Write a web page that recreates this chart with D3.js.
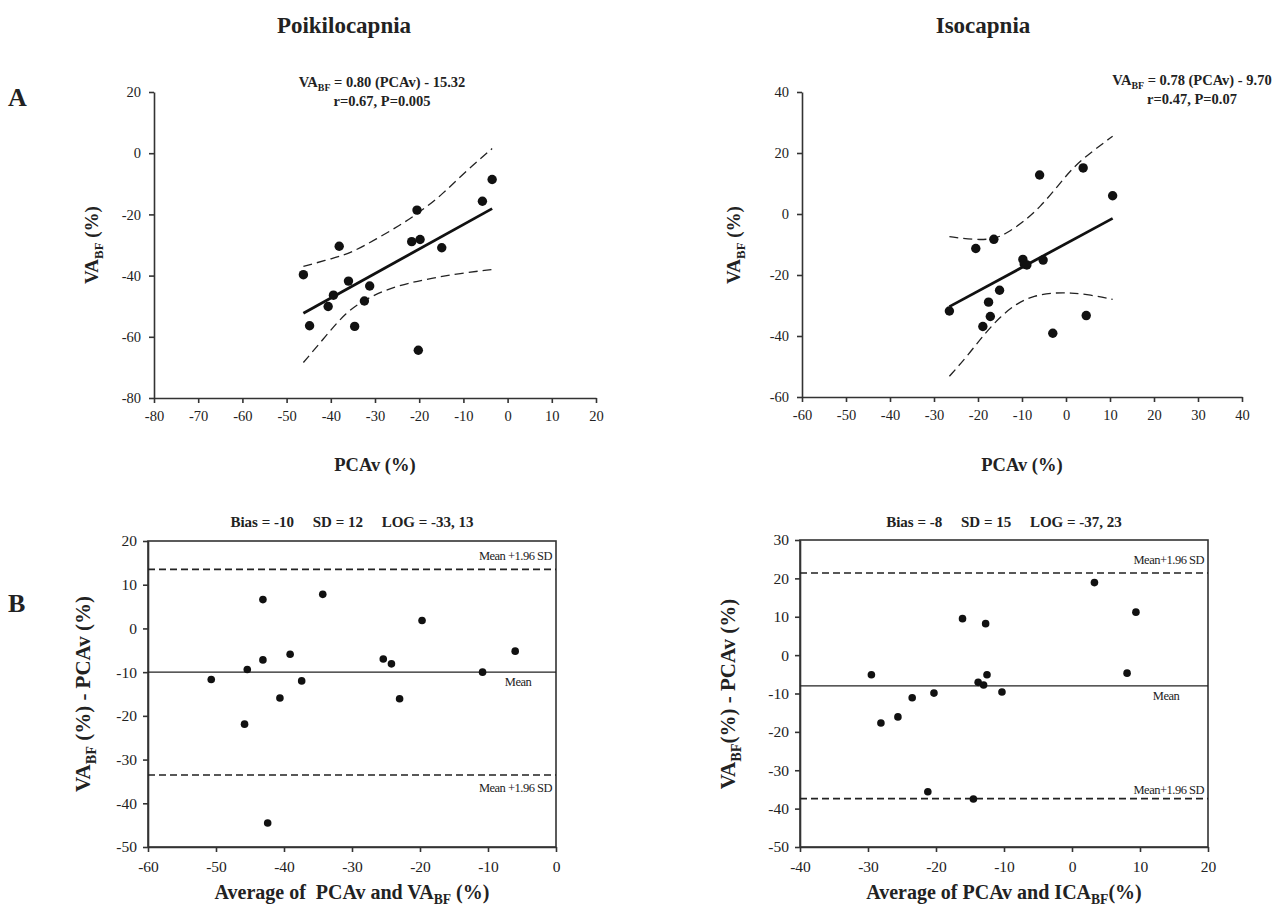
<!DOCTYPE html>
<html>
<head>
<meta charset="utf-8">
<script src="https://cdn.jsdelivr.net/npm/d3@7"></script>
<style>
  body { margin: 0; background: #fff; }
  svg { display: block; }
  text { font-family: "Liberation Serif", "Times New Roman", serif; fill: #222; }
</style>
</head>
<body>
<svg id="fig" width="1288" height="910"></svg>
<script>
// ---- Panel A: regression of VA blood flow change on PCA velocity change (%) ----
const poikiPCAv = [-46.2, -44.8, -40.6, -39.4, -38.1, -36.0, -34.6, -32.4, -31.2, -21.7, -20.5, -19.8, -20.2, -14.9, -5.7, -3.5];
const poikiVABF = [-39.7, -56.4, -50.1, -46.4, -30.4, -41.8, -56.6, -48.3, -43.4, -28.9, -18.6, -28.2, -64.4, -30.9, -15.7, -8.6];
const poikiSlope = 0.80;
const poikiIntercept = -15.32;
const poikiUpperBand = [[-46.2, -37.0], [-39.6, -34.4], [-35.1, -32.4], [-29.8, -28.1], [-24.5, -23.7], [-20.0, -19.4], [-14.7, -13.4], [-9.4, -5.8], [-3.5, 1.5]];
const poikiLowerBand = [[-46.2, -68.4], [-41.1, -59.7], [-36.6, -52.0], [-32.1, -47.7], [-27.5, -44.6], [-22.3, -42.4], [-17.0, -40.8], [-10.9, -39.3], [-3.5, -38.0]];

const isoPCAv = [-26.5, -20.5, -18.9, -17.6, -17.2, -16.4, -15.1, -9.8, -9.5, -8.9, -6.0, -5.2, -3.0, 3.9, 4.6, 10.6];
const isoVABF = [-31.8, -11.3, -36.9, -28.9, -33.6, -8.3, -25.0, -14.9, -16.4, -16.7, 12.8, -15.1, -39.1, 15.1, -33.3, 6.0];
const isoSlope = 0.78;
const isoIntercept = -9.70;
const isoUpperBand = [[-26.5, -7.4], [-21.0, -8.5], [-16.4, -8.3], [-13.4, -6.3], [-9.6, -2.5], [-5.8, 2.4], [-2.0, 8.9], [1.7, 15.5], [6.3, 20.9], [10.6, 25.5]];
const isoLowerBand = [[-26.5, -53.2], [-22.5, -46.7], [-18.7, -39.6], [-14.9, -33.6], [-11.1, -29.2], [-7.3, -26.8], [-2.8, -25.8], [1.0, -25.8], [5.5, -26.5], [10.6, -28.0]];

// ---- Panel B: Bland-Altman agreement ----
const baPoikiAvg  = [-50.7, -45.4, -45.8, -43.1, -43.1, -42.4, -40.6, -39.1, -37.4, -34.3, -25.4, -24.2, -23.0, -19.7, -10.8, -6.0];
const baPoikiDiff = [-11.7, -9.4, -21.9, 6.6, -7.2, -44.5, -15.9, -5.9, -12.0, 7.8, -7.0, -8.1, -16.1, 1.8, -10.0, -5.2];
const poikiBias = -10;
const poikiSD = 12;

const baIsoAvg  = [-29.5, -28.1, -25.6, -23.5, -21.2, -20.3, -16.1, -14.5, -13.8, -13.0, -12.7, -12.5, -10.3, 3.3, 8.1, 9.4];
const baIsoDiff = [-5.1, -17.7, -16.1, -11.1, -35.6, -9.9, 9.5, -37.5, -7.1, -7.8, 8.2, -5.1, -9.6, 18.9, -4.7, 11.2];
const isoBias = -8;
const isoSD = 15;

// ---- Tick values ----
const poikiXTicks = [-80, -70, -60, -50, -40, -30, -20, -10, 0, 10, 20];
const poikiYTicks = [-80, -60, -40, -20, 0, 20];
const isoXTicks = [-60, -50, -40, -30, -20, -10, 0, 10, 20, 30, 40];
const isoYTicks = [-60, -40, -20, 0, 20, 40];
const baPoikiXTicks = [-60, -50, -40, -30, -20, -10, 0];
const baPoikiYTicks = [-50, -40, -30, -20, -10, 0, 10, 20];
const baIsoXTicks = [-40, -30, -20, -10, 0, 10, 20];
const baIsoYTicks = [-50, -40, -30, -20, -10, 0, 10, 20, 30];

const svg = d3.select("#fig");
const INK = "#222";
const plain = d => String(d);   // hyphen-minus tick labels

// Text with optional subscript runs: parts = [[string, isSub], ...]
function richText(sel, parts, size) {
  const shift = size * 0.26;
  let down = false;
  parts.forEach(([s, sub]) => {
    const t = sel.append("tspan").text(s);
    if (sub && !down) { t.attr("dy", shift).style("font-size", (size * 0.68) + "px"); down = true; }
    else if (sub) { t.style("font-size", (size * 0.68) + "px"); }
    else if (down) { t.attr("dy", -shift); down = false; }
  });
  return sel;
}

function label(x, y, parts, size, opts = {}) {
  const t = svg.append("text")
    .attr("x", x).attr("y", y)
    .attr("text-anchor", opts.anchor || "middle")
    .style("font-size", size + "px")
    .style("font-weight", opts.weight || "bold")
    .style("white-space", "pre");
  if (opts.spacing) t.style("letter-spacing", opts.spacing);
  richText(t, parts, size);
  return t;
}

function yTitle(cx, cy, parts, size) {
  const g = svg.append("g").attr("transform", `translate(${cx},${cy}) rotate(-90)`);
  const t = g.append("text").attr("text-anchor", "middle").attr("dy", "0.35em")
    .style("font-size", size + "px").style("font-weight", "bold");
  richText(t, parts, size);
}

function styleAxis(g, fontSize, weight) {
  g.selectAll("path, line").attr("stroke", "#333").attr("stroke-width", 1.6);
  g.selectAll("text").style("font-size", fontSize + "px")
    .style("font-family", '"Liberation Serif","Times New Roman",serif')
    .style("font-weight", weight || "normal").attr("fill", "#333");
}

// Regression panel: left and bottom axes, dots, fitted line and dashed confidence bands
function regressionPanel(p) {
  const x = d3.scaleLinear().domain(p.xDomain).range(p.xRange);
  const y = d3.scaleLinear().domain(p.yDomain).range(p.yRange);

  const gx = svg.append("g").attr("transform", `translate(0,${p.yRange[0]})`)
    .call(d3.axisBottom(x).tickValues(p.xTicks).tickSize(5).tickSizeOuter(0).tickPadding(8).tickFormat(plain));
  styleAxis(gx, 14.5);
  const gy = svg.append("g").attr("transform", `translate(${p.xRange[0]},0)`)
    .call(d3.axisLeft(y).tickValues(p.yTicks).tickSize(5).tickSizeOuter(0).tickPadding(8).tickFormat(plain));
  styleAxis(gy, 14.5);

  const band = d3.line().x(d => x(d[0])).y(d => y(d[1])).curve(d3.curveBasis);
  [p.upper, p.lower].forEach(b => {
    svg.append("path").attr("d", band(b)).attr("fill", "none")
      .attr("stroke", INK).attr("stroke-width", 1.3).attr("stroke-dasharray", "9,5");
  });

  const ext = d3.extent(p.xs);
  svg.append("line")
    .attr("x1", x(ext[0])).attr("y1", y(p.slope * ext[0] + p.intercept))
    .attr("x2", x(ext[1])).attr("y2", y(p.slope * ext[1] + p.intercept))
    .attr("stroke", "#111").attr("stroke-width", 2.8);

  svg.append("g").selectAll("circle").data(d3.zip(p.xs, p.ys)).join("circle")
    .attr("cx", d => x(d[0])).attr("cy", d => y(d[1])).attr("r", 4.7).attr("fill", "#111");
}

// Bland-Altman panel: framed plot, mean and limit lines, dots
function agreementPanel(p) {
  const x = d3.scaleLinear().domain(p.xDomain).range(p.xRange);
  const y = d3.scaleLinear().domain(p.yDomain).range(p.yRange);

  svg.append("rect")
    .attr("x", p.xRange[0]).attr("y", p.yRange[1])
    .attr("width", p.xRange[1] - p.xRange[0]).attr("height", p.yRange[0] - p.yRange[1])
    .attr("fill", "none").attr("stroke", "#333").attr("stroke-width", 1.6);

  const gx = svg.append("g").attr("transform", `translate(0,${p.yRange[0]})`)
    .call(d3.axisBottom(x).tickValues(p.xTicks).tickSize(5).tickSizeOuter(0).tickPadding(9).tickFormat(plain));
  styleAxis(gx, 15.5);
  const gy = svg.append("g").attr("transform", `translate(${p.xRange[0]},0)`)
    .call(d3.axisLeft(y).tickValues(p.yTicks).tickSize(5).tickSizeOuter(0).tickPadding(6).tickFormat(plain));
  styleAxis(gy, 15.5);

  const hi = p.bias + 1.96 * p.sd;
  const lo = p.bias - 1.96 * p.sd;
  [hi, lo].forEach(v => {
    svg.append("line").attr("x1", p.xRange[0]).attr("x2", p.xRange[1])
      .attr("y1", y(v)).attr("y2", y(v))
      .attr("stroke", INK).attr("stroke-width", 1.6).attr("stroke-dasharray", "7,4");
  });
  svg.append("line").attr("x1", p.xRange[0]).attr("x2", p.xRange[1])
    .attr("y1", y(p.bias)).attr("y2", y(p.bias))
    .attr("stroke", INK).attr("stroke-width", 1.3);

  const right = p.xRange[1] - 4;
  label(right, y(hi) - 9, [[p.hiLabel]], 12.5, { anchor: "end", weight: "normal", spacing: "-0.5px" });
  label(right, y(lo) + p.loOffset, [[p.loLabel]], 12.5, { anchor: "end", weight: "normal", spacing: "-0.5px" });
  label(p.xRange[1] - p.meanInset, y(p.bias) + 14, [["Mean"]], 12.5, { weight: "normal", spacing: "-0.5px" });

  svg.append("g").selectAll("circle").data(d3.zip(p.xs, p.ys)).join("circle")
    .attr("cx", d => x(d[0])).attr("cy", d => y(d[1])).attr("r", 3.8).attr("fill", "#111");
}

// ---- Headings ----
label(344, 33, [["Poikilocapnia"]], 23);
label(983, 33, [["Isocapnia"]], 23);
label(8, 106, [["A"]], 26, { anchor: "start" });
label(8, 612, [["B"]], 26, { anchor: "start" });

// ---- Panel A ----
regressionPanel({
  xDomain: [-80, 20], xRange: [154, 596], yDomain: [-80, 20], yRange: [398, 92],
  xTicks: poikiXTicks, yTicks: poikiYTicks, xs: poikiPCAv, ys: poikiVABF,
  slope: poikiSlope, intercept: poikiIntercept, upper: poikiUpperBand, lower: poikiLowerBand
});
regressionPanel({
  xDomain: [-60, 40], xRange: [802, 1242], yDomain: [-60, 40], yRange: [397, 92],
  xTicks: isoXTicks, yTicks: isoYTicks, xs: isoPCAv, ys: isoVABF,
  slope: isoSlope, intercept: isoIntercept, upper: isoUpperBand, lower: isoLowerBand
});

label(382, 87, [["VA"], ["BF", true], [" = 0.80 (PCAv) - 15.32"]], 14.5);
label(382, 106, [["r=0.67, P=0.005"]], 14.5);
label(1192, 85, [["VA"], ["BF", true], [" = 0.78 (PCAv) - 9.70"]], 14.5);
label(1192, 104, [["r=0.47, P=0.07"]], 14.5);

yTitle(91, 245, [["VA"], ["BF", true], [" (%)"]], 19);
yTitle(733, 245, [["VA"], ["BF", true], [" (%)"]], 19);
label(375, 471, [["PCAv (%)"]], 18.5);
label(1022, 471, [["PCAv (%)"]], 18.5);

// ---- Panel B ----
agreementPanel({
  xDomain: [-60, 0], xRange: [148, 556], yDomain: [-50, 20], yRange: [847, 541],
  xTicks: baPoikiXTicks, yTicks: baPoikiYTicks, xs: baPoikiAvg, ys: baPoikiDiff,
  bias: poikiBias, sd: poikiSD, hiLabel: "Mean +1.96 SD", loLabel: "Mean +1.96 SD",
  loOffset: 17, meanInset: 38
});
agreementPanel({
  xDomain: [-40, 20], xRange: [800, 1208], yDomain: [-50, 30], yRange: [847, 540],
  xTicks: baIsoXTicks, yTicks: baIsoYTicks, xs: baIsoAvg, ys: baIsoDiff,
  bias: isoBias, sd: isoSD, hiLabel: "Mean+1.96 SD", loLabel: "Mean+1.96 SD",
  loOffset: -5, meanInset: 42
});

label(352, 527, [["Bias = -10     SD = 12     LOG = -33, 13"]], 15);
label(1004, 527, [["Bias = -8     SD = 15     LOG = -37, 23"]], 15);

yTitle(83, 694, [["VA"], ["BF", true], [" (%) - PCAv (%)"]], 21);
yTitle(728, 694, [["VA"], ["BF", true], ["(%) - PCAv (%)"]], 21);
label(352, 899, [["Average of  PCAv and VA"], ["BF", true], [" (%)"]], 20);
label(1004, 899, [["Average of PCAv and ICA"], ["BF", true], ["(%)"]], 20);
</script>
</body>
</html>
